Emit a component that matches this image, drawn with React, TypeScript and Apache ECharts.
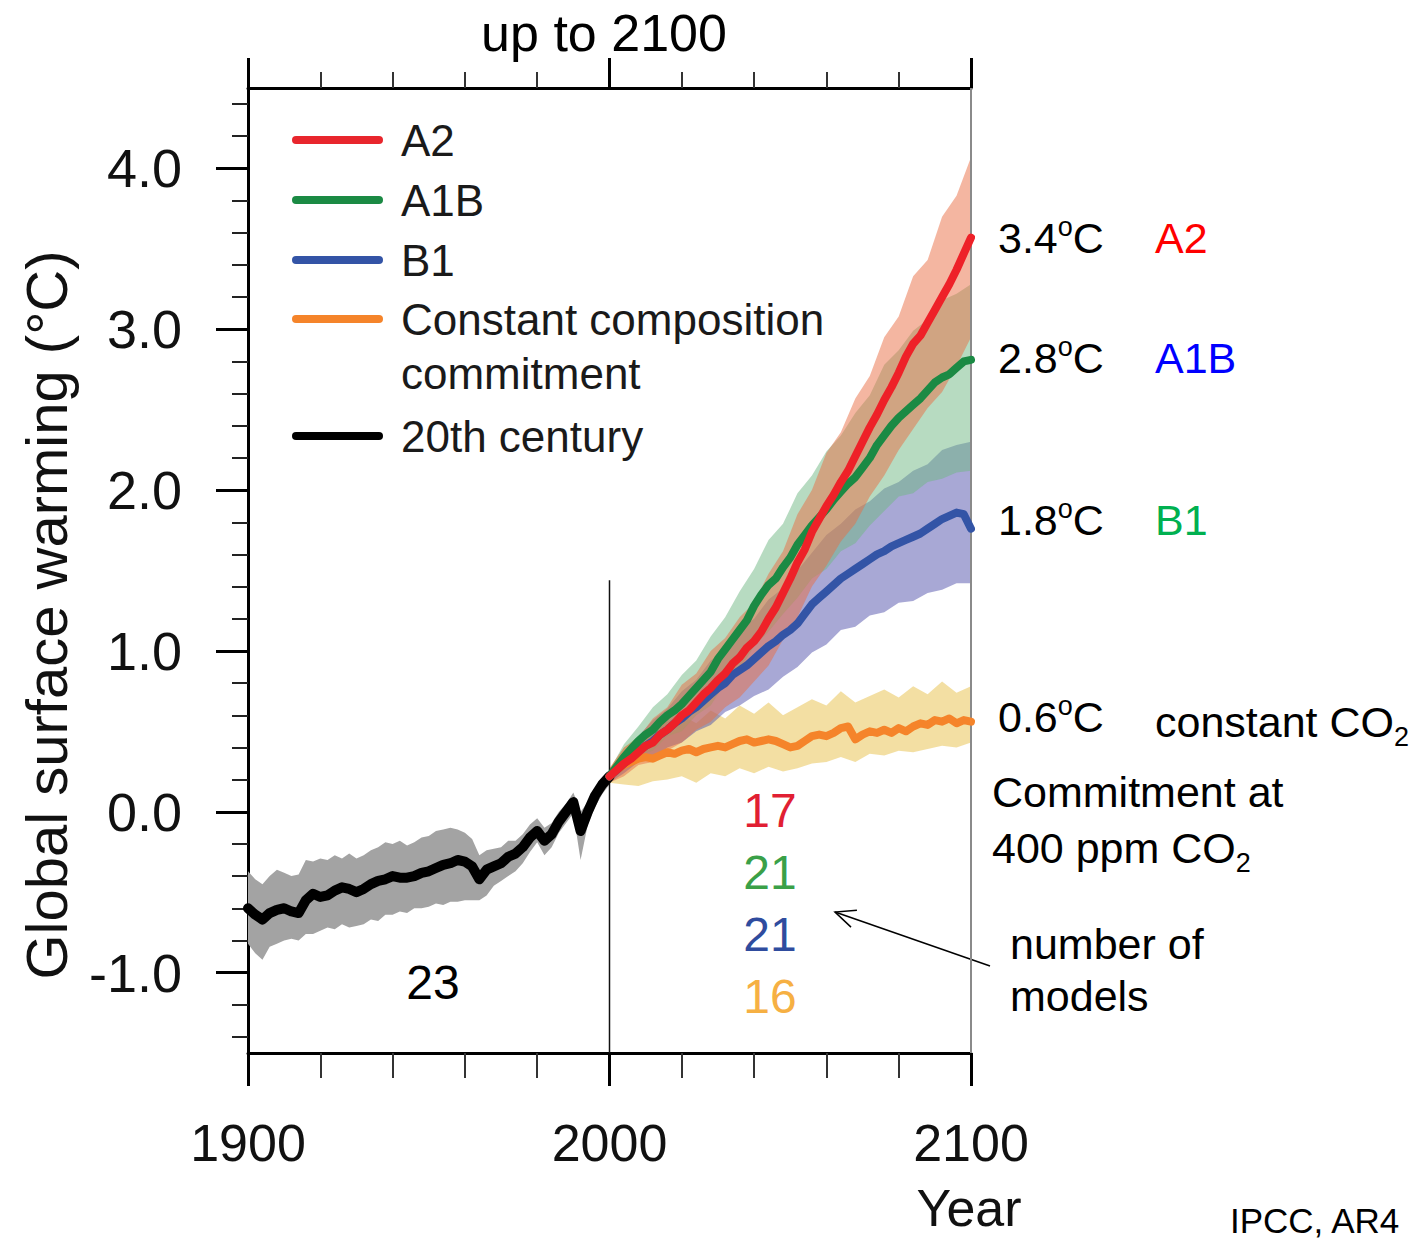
import React, { useEffect, useRef } from "react";
import * as echarts from "echarts";

const FONT = '"Liberation Sans", Arial, Helvetica, sans-serif';

// ---------- data ----------
const yearsHist: number[] = Array.from({ length: 51 }, (_, i) => 1900 + 2 * i);
const hist20c = [
  -0.60, -0.64, -0.67, -0.63, -0.61, -0.60, -0.62, -0.63, -0.55, -0.51,
  -0.53, -0.52, -0.49, -0.47, -0.48, -0.50, -0.48, -0.45, -0.43, -0.42,
  -0.40, -0.41, -0.41, -0.40, -0.38, -0.37, -0.35, -0.33, -0.32, -0.30,
  -0.31, -0.34, -0.42, -0.36, -0.34, -0.32, -0.28, -0.26, -0.22, -0.16,
  -0.12, -0.18, -0.14, -0.06, 0.00, 0.06, -0.12, 0.00, 0.10, 0.17, 0.22,
];
const hist20cUp = [
  -0.37, -0.42, -0.45, -0.40, -0.36, -0.38, -0.40, -0.39, -0.30, -0.31,
  -0.29, -0.30, -0.27, -0.29, -0.26, -0.29, -0.27, -0.24, -0.22, -0.19,
  -0.20, -0.18, -0.21, -0.19, -0.16, -0.15, -0.12, -0.11, -0.10, -0.11,
  -0.13, -0.17, -0.27, -0.24, -0.23, -0.22, -0.18, -0.18, -0.14, -0.08,
  -0.04, -0.10, -0.07, 0.00, 0.05, 0.12, 0.00, 0.06, 0.14, 0.21, 0.26,
];
const hist20cLo = [
  -0.82, -0.88, -0.92, -0.84, -0.82, -0.80, -0.79, -0.80, -0.76, -0.76,
  -0.74, -0.72, -0.73, -0.70, -0.72, -0.71, -0.70, -0.67, -0.68, -0.64,
  -0.64, -0.62, -0.63, -0.60, -0.60, -0.59, -0.57, -0.58, -0.56, -0.56,
  -0.55, -0.55, -0.55, -0.52, -0.46, -0.43, -0.40, -0.37, -0.32, -0.25,
  -0.19, -0.27, -0.22, -0.13, -0.07, -0.01, -0.30, -0.08, 0.03, 0.11, 0.17,
];

const yearsProj: number[] = Array.from({ length: 51 }, (_, i) => 2000 + 2 * i);
const a2 = [
  0.22, 0.26, 0.30, 0.33, 0.37, 0.41, 0.43, 0.48, 0.51, 0.55,
  0.60, 0.63, 0.68, 0.73, 0.77, 0.82, 0.86, 0.92, 0.96, 1.02,
  1.06, 1.12, 1.20, 1.27, 1.36, 1.45, 1.55, 1.63, 1.74, 1.82,
  1.90, 1.97, 2.05, 2.12, 2.21, 2.30, 2.39, 2.47, 2.56, 2.64,
  2.73, 2.83, 2.91, 2.96, 3.04, 3.12, 3.20, 3.28, 3.37, 3.47, 3.57,
];
const a1b = [
  0.22, 0.28, 0.34, 0.39, 0.44, 0.48, 0.51, 0.56, 0.60, 0.63,
  0.67, 0.72, 0.77, 0.82, 0.87, 0.95, 1.01, 1.07, 1.13, 1.19,
  1.28, 1.35, 1.41, 1.45, 1.52, 1.58, 1.66, 1.72, 1.78, 1.83,
  1.88, 1.94, 1.99, 2.04, 2.08, 2.14, 2.20, 2.28, 2.34, 2.40,
  2.45, 2.49, 2.53, 2.57, 2.62, 2.67, 2.70, 2.72, 2.76, 2.80, 2.81,
];
const b1 = [
  0.22, 0.26, 0.30, 0.34, 0.38, 0.41, 0.44, 0.48, 0.51, 0.55,
  0.58, 0.62, 0.65, 0.69, 0.73, 0.77, 0.80, 0.85, 0.88, 0.91,
  0.95, 0.99, 1.03, 1.06, 1.10, 1.13, 1.17, 1.23, 1.29, 1.33,
  1.37, 1.41, 1.45, 1.48, 1.51, 1.54, 1.57, 1.60, 1.62, 1.65,
  1.67, 1.69, 1.71, 1.73, 1.76, 1.79, 1.82, 1.84, 1.86, 1.85, 1.76,
];
const commit = [
  0.22, 0.26, 0.29, 0.31, 0.33, 0.34, 0.33, 0.35, 0.37, 0.36,
  0.38, 0.39, 0.37, 0.39, 0.40, 0.41, 0.40, 0.42, 0.44, 0.45,
  0.43, 0.44, 0.45, 0.44, 0.42, 0.40, 0.41, 0.44, 0.47, 0.48,
  0.47, 0.49, 0.52, 0.53, 0.45, 0.48, 0.50, 0.49, 0.51, 0.49,
  0.52, 0.50, 0.53, 0.55, 0.54, 0.57, 0.56, 0.58, 0.55, 0.57, 0.56,
];

const yearsBand: number[] = Array.from({ length: 26 }, (_, i) => 2000 + 4 * i);
const a2Up = [0.27, 0.40, 0.46, 0.58, 0.65, 0.79, 0.86, 1.00, 1.08, 1.21, 1.30, 1.48, 1.62, 1.85, 2.00, 2.23, 2.36, 2.57, 2.71, 2.95, 3.08, 3.33, 3.43, 3.70, 3.83, 4.07];
const a2Lo = [0.18, 0.22, 0.29, 0.31, 0.38, 0.43, 0.51, 0.56, 0.65, 0.71, 0.81, 0.91, 1.07, 1.21, 1.40, 1.53, 1.68, 1.79, 1.96, 2.09, 2.25, 2.38, 2.51, 2.61, 2.77, 2.95];
const a1bUp = [0.26, 0.42, 0.53, 0.65, 0.73, 0.85, 0.94, 1.09, 1.21, 1.37, 1.51, 1.69, 1.79, 1.98, 2.09, 2.24, 2.34, 2.48, 2.59, 2.78, 2.87, 2.99, 3.06, 3.18, 3.22, 3.28];
const a1bLo = [0.18, 0.26, 0.35, 0.38, 0.47, 0.50, 0.60, 0.66, 0.80, 0.88, 1.03, 1.12, 1.23, 1.33, 1.45, 1.51, 1.62, 1.67, 1.78, 1.87, 1.96, 1.98, 2.05, 2.07, 2.11, 2.12];
const b1Up = [0.26, 0.38, 0.47, 0.57, 0.64, 0.75, 0.82, 0.94, 1.01, 1.13, 1.20, 1.32, 1.39, 1.50, 1.61, 1.72, 1.79, 1.88, 1.93, 2.01, 2.05, 2.12, 2.16, 2.25, 2.28, 2.30];
const b1Lo = [0.18, 0.24, 0.31, 0.33, 0.40, 0.43, 0.50, 0.54, 0.62, 0.66, 0.72, 0.76, 0.84, 0.90, 0.99, 1.04, 1.13, 1.15, 1.22, 1.24, 1.30, 1.31, 1.36, 1.38, 1.42, 1.42];
const commitUp = [0.27, 0.40, 0.47, 0.52, 0.56, 0.60, 0.55, 0.63, 0.58, 0.66, 0.61, 0.68, 0.60, 0.65, 0.70, 0.66, 0.75, 0.68, 0.72, 0.76, 0.71, 0.78, 0.73, 0.81, 0.74, 0.78];
const commitLo = [0.18, 0.17, 0.16, 0.19, 0.20, 0.22, 0.18, 0.24, 0.22, 0.27, 0.24, 0.28, 0.25, 0.27, 0.30, 0.31, 0.34, 0.31, 0.36, 0.35, 0.38, 0.37, 0.39, 0.41, 0.40, 0.43];

const yMajorTicks = [-1, 0, 1, 2, 3, 4];
const yMinorTicks = [-1.4, -1.2, -0.8, -0.6, -0.4, -0.2, 0.2, 0.4, 0.6, 0.8, 1.2, 1.4, 1.6, 1.8, 2.2, 2.4, 2.6, 2.8, 3.2, 3.4, 3.6, 3.8, 4.2, 4.4];

const legendItems = [
  { label: "A2", color: "#e8262d" },
  { label: "A1B", color: "#1b8a44" },
  { label: "B1", color: "#3354a6" },
  { label: "Constant composition", color: "#f5842a" },
  { label: "20th century", color: "#000000" },
];

const modelCounts = [
  { label: "17", color: "#e11f33" },
  { label: "21", color: "#3aa048" },
  { label: "21", color: "#2f4c9e" },
  { label: "16", color: "#f6b043" },
];

// ---------- helpers ----------
function band(name: string, xs: number[], lo: number[], hi: number[], color: string) {
  return {
    type: "custom",
    name,
    silent: true,
    xAxisIndex: 0,
    yAxisIndex: 0,
    data: xs.map((x, i) => [x, lo[i], hi[i]]),
    encode: { x: 0, y: [1, 2] },
    renderItem: (params: any, api: any) => {
      if (params.dataIndex !== 0) return null;
      const pts: number[][] = [];
      for (let i = 0; i < xs.length; i++) pts.push(api.coord([xs[i], hi[i]]));
      for (let i = xs.length - 1; i >= 0; i--) pts.push(api.coord([xs[i], lo[i]]));
      return { type: "polygon", shape: { points: pts }, style: { fill: color } };
    },
  };
}

function line(name: string, xs: number[], ys: number[], color: string, width = 8) {
  return {
    type: "line",
    name,
    silent: true,
    xAxisIndex: 0,
    yAxisIndex: 0,
    showSymbol: false,
    symbol: "none",
    data: xs.map((x, i) => [x, ys[i]]),
    lineStyle: { color, width, cap: "round", join: "round" },
  };
}

function txt(x: number, y: number, text: string, opts: any = {}) {
  return {
    type: "text",
    x,
    y,
    silent: true,
    style: {
      text,
      fill: opts.fill || "#000",
      fontSize: opts.fontSize || 43,
      fontFamily: FONT,
      textAlign: opts.align || "left",
      textVerticalAlign: "middle",
      rich: opts.rich,
    },
    rotation: opts.rotation || 0,
  };
}

const supRich = {
  s: { fontSize: 27, fontFamily: FONT, verticalAlign: "top", lineHeight: 50, fill: "#000" },
  n: { fontSize: 43, fontFamily: FONT, lineHeight: 50, fill: "#000" },
};
const subRich = {
  n: { fontSize: 43, fontFamily: FONT, lineHeight: 56, fill: "#000" },
  b: { fontSize: 27, fontFamily: FONT, verticalAlign: "bottom", lineHeight: 56, fill: "#000" },
};

export default function App() {
  const ref = useRef<HTMLDivElement>(null);
  useEffect(() => {
    const chart = echarts.init(ref.current!, null, { renderer: "svg" });

    // arrow geometry (annotation)
    const tail = [990, 966];
    const head = [835, 912];
    const dx = head[0] - tail[0];
    const dy = head[1] - tail[1];
    const len = Math.sqrt(dx * dx + dy * dy);
    const ux = dx / len;
    const uy = dy / len;
    const ah = 22;
    const ang = 0.42;
    const wing = (s: number) => [
      head[0] - ah * (ux * Math.cos(ang) - s * uy * Math.sin(ang)),
      head[1] - ah * (uy * Math.cos(ang) + s * ux * Math.sin(ang)),
    ];

    const legendRows = [140, 200, 260, 319, 436];
    const legendGraphics: any[] = [];
    legendItems.forEach((it, i) => {
      legendGraphics.push({
        type: "line",
        silent: true,
        shape: { x1: 296, y1: legendRows[i], x2: 379, y2: legendRows[i] },
        style: { stroke: it.color, lineWidth: 8, lineCap: "round" },
      });
      legendGraphics.push(txt(401, legendRows[i], it.label, { fontSize: 44, fill: "#1a1a1a" }));
    });
    legendGraphics.push(txt(401, 373, "commitment", { fontSize: 44, fill: "#1a1a1a" }));

    const countGraphics = modelCounts.map((m, i) =>
      txt(770, 810 + i * 62, m.label, { fontSize: 48, fill: m.color, align: "center" })
    );

    const option: any = {
      animation: false,
      backgroundColor: "#ffffff",
      grid: { left: 248, right: 446, top: 88, bottom: 186, containLabel: false },
      xAxis: [
        {
          type: "value",
          position: "bottom",
          min: 1900,
          max: 2100,
          interval: 100,
          axisLine: { show: true, onZero: false, lineStyle: { color: "#000", width: 3 } },
          axisTick: { show: true, length: 33, lineStyle: { color: "#000", width: 3 } },
          minorTick: { show: true, splitNumber: 5, length: 25, lineStyle: { color: "#333", width: 2 } },
          axisLabel: {
            show: true,
            fontSize: 52,
            fontFamily: FONT,
            color: "#111",
            margin: 64,
            formatter: (v: number) => String(Math.round(v)),
          },
          splitLine: { show: false },
          minorSplitLine: { show: false },
        },
        {
          type: "value",
          position: "top",
          min: 1900,
          max: 2100,
          interval: 100,
          axisLine: { show: true, onZero: false, lineStyle: { color: "#000", width: 3 } },
          axisTick: { show: true, length: 30, lineStyle: { color: "#000", width: 3 } },
          minorTick: { show: true, splitNumber: 5, length: 16, lineStyle: { color: "#333", width: 2 } },
          axisLabel: { show: false },
          splitLine: { show: false },
          minorSplitLine: { show: false },
        },
      ],
      yAxis: [
        {
          type: "value",
          position: "left",
          min: -1.5,
          max: 4.5,
          axisLine: { show: true, onZero: false, lineStyle: { color: "#000", width: 3 } },
          axisTick: { show: true, length: 32, customValues: yMajorTicks, lineStyle: { color: "#000", width: 3 } },
          axisLabel: {
            show: true,
            customValues: yMajorTicks,
            fontSize: 54,
            fontFamily: FONT,
            color: "#111",
            margin: 66,
            formatter: (v: number) => v.toFixed(1),
          },
          splitLine: { show: false },
        },
        {
          type: "value",
          position: "left",
          min: -1.5,
          max: 4.5,
          axisLine: { show: false },
          axisTick: { show: true, length: 16, customValues: yMinorTicks, lineStyle: { color: "#222", width: 2 } },
          axisLabel: { show: false },
          splitLine: { show: false },
        },
      ],
      series: [
        band("20th century range", yearsHist, hist20cLo, hist20cUp, "#a3a3a3"),
        band("Commitment range", yearsBand, commitLo, commitUp, "rgba(232,192,72,0.5)"),
        band("B1 range", yearsBand, b1Lo, b1Up, "rgba(82,82,172,0.5)"),
        band("A1B range", yearsBand, a1bLo, a1bUp, "rgba(112,184,132,0.5)"),
        band("A2 range", yearsBand, a2Lo, a2Up, "rgba(234,110,68,0.5)"),
        {
          type: "line",
          silent: true,
          showSymbol: false,
          symbol: "none",
          data: [[2100, -1.5], [2100, 4.5]],
          lineStyle: { color: "#8a8a8a", width: 2 },
        },
        {
          type: "line",
          silent: true,
          showSymbol: false,
          symbol: "none",
          data: [[2000, -1.5], [2000, 1.44]],
          lineStyle: { color: "#111", width: 1.5 },
        },
        line("20th century", yearsHist, hist20c, "#000000", 10),
        line("Constant composition commitment", yearsProj, commit, "#f5842a"),
        line("B1", yearsProj, b1, "#3354a6"),
        line("A1B", yearsProj, a1b, "#1b8a44"),
        line("A2", yearsProj, a2, "#ee2128"),
      ],
      graphic: [
        txt(604, 33, "up to 2100", { fontSize: 52, align: "center" }),
        txt(46, 615, "Global surface warming (°C)", { fontSize: 58, align: "center", rotation: Math.PI / 2, fill: "#111" }),
        txt(969, 1208, "Year", { fontSize: 52, align: "center", fill: "#111" }),
        ...legendGraphics,
        txt(998, 238, "{n|3.4}{s|o}{n|C}", { rich: supRich }),
        txt(1155, 238, "A2", { fill: "#ff0000" }),
        txt(998, 358, "{n|2.8}{s|o}{n|C}", { rich: supRich }),
        txt(1155, 358, "A1B", { fill: "#0000ff" }),
        txt(998, 520, "{n|1.8}{s|o}{n|C}", { rich: supRich }),
        txt(1155, 520, "B1", { fill: "#00b050" }),
        txt(998, 717, "{n|0.6}{s|o}{n|C}", { rich: supRich }),
        txt(1155, 722, "{n|constant CO}{b|2}", { rich: subRich }),
        txt(992, 792, "Commitment at"),
        txt(992, 848, "{n|400 ppm CO}{b|2}", { rich: subRich }),
        txt(1010, 944, "number of"),
        txt(1010, 996, "models"),
        txt(433, 982, "23", { fontSize: 48, align: "center" }),
        ...countGraphics,
        {
          type: "line",
          silent: true,
          shape: { x1: tail[0], y1: tail[1], x2: head[0], y2: head[1] },
          style: { stroke: "#000", lineWidth: 1.5 },
        },
        {
          type: "polyline",
          silent: true,
          shape: { points: [wing(1), head, wing(-1)] },
          style: { stroke: "#000", lineWidth: 1.5, fill: null },
        },
        txt(1230, 1220, "IPCC, AR4", { fontSize: 35 }),
      ],
    };

    chart.setOption(option);
    return () => chart.dispose();
  }, []);

  return (
    <div
      ref={ref}
      style={{ position: "fixed", left: 0, top: 0, width: 1417, height: 1239, background: "#fff" }}
    />
  );
}
